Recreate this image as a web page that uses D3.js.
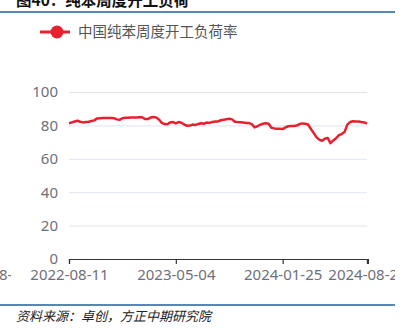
<!DOCTYPE html>
<html>
<head>
<meta charset="utf-8">
<script src="https://cdn.jsdelivr.net/npm/d3@7"></script>
<style>
	body { margin: 0; background: #fff; }
	svg { display: block; }
</style>
</head>
<body>
<svg id="chart" width="404" height="335" viewBox="0 0 404 335"></svg>
<script>

// weekly data, starting 2022-08-11
const start_date = "2022-08-11";
const run_rate = [
	81.3, 81.8, 82.3, 82.8, 82.2, 81.8, 82.0, 82.2, 82.6, 83.0,
	84.2, 84.3, 84.4, 84.4, 84.4, 84.5, 84.3, 83.6, 83.3, 84.3,
	84.6, 84.6, 84.7, 84.8, 84.8, 84.9, 84.9, 83.8, 83.8, 84.7,
	85.0, 84.8, 83.5, 81.5, 80.8, 80.7, 81.8, 82.0, 81.2, 82.0,
	81.6, 80.5, 79.8, 79.9, 80.5, 80.3, 80.8, 81.3, 81.0, 81.7,
	81.5, 82.1, 82.3, 82.4, 83.1, 83.4, 83.7, 84.0, 83.6, 82.2,
	82.0, 81.9, 81.7, 81.5, 81.4, 80.8, 78.8, 79.5, 80.4, 81.0,
	81.3, 81.0, 78.6, 78.2, 78.0, 78.0, 77.8, 78.8, 79.5, 79.6,
	79.7, 79.9, 80.8, 81.2, 81.0, 80.5, 78.0, 75.5, 73.0, 71.5,
	70.8, 72.0, 72.5, 69.4, 71.0, 72.3, 74.2, 74.8, 76.0, 80.5,
	82.0, 82.5, 82.3, 82.3, 82.0, 81.8, 81.0
];
const y_ticks = [0, 20, 40, 60, 80, 100];
const x_tick_labels = ["2022-08-11", "2023-05-04", "2024-01-25", "2024-08-22"];

const series_name = "中国纯苯周度开工负荷率";
const title_text = "图40：纯苯周度开工负荷";
const source_text = "资料来源：卓创，方正中期研究院";

const parse = d3.timeParse("%Y-%m-%d");
const fmt = d3.timeFormat("%Y-%m-%d");
const dates = run_rate.map((v, i) => fmt(d3.timeDay.offset(parse(start_date), 7 * i)));

const svg = d3.select("#chart");
const font = "'Noto Sans', 'Noto Sans CJK SC', sans-serif";

const plot = {left: 69, right: 367, top: 92, bottom: 259};

const x = d3.scaleLinear()
	.domain([0, dates.length - 1])
	.range([plot.left, plot.right]);

const y = d3.scaleLinear()
	.domain([0, 100])
	.range([plot.bottom, plot.top]);

// title + frame lines
svg.append("text")
	.attr("x", 16)
	.attr("y", 6)
	.attr("font-family", "'Noto Sans CJK SC', sans-serif")
	.attr("font-weight", "bold")
	.attr("font-size", "15.5px")
	.attr("fill", "#111")
	.text(title_text);

svg.append("line")
	.attr("x1", 0).attr("x2", 395)
	.attr("y1", 12).attr("y2", 12)
	.attr("stroke", "#1f5f98")
	.attr("stroke-width", 1.5);

svg.append("line")
	.attr("x1", 0).attr("x2", 395)
	.attr("y1", 305).attr("y2", 305)
	.attr("stroke", "#1f5f98")
	.attr("stroke-width", 1.5);

svg.append("text")
	.attr("x", 16)
	.attr("y", 321)
	.attr("font-family", "'Noto Sans CJK SC', sans-serif")
	.attr("font-style", "italic")
	.attr("font-size", "13px")
	.attr("fill", "#222")
	.text(source_text);

// legend
const legend = svg.append("g").attr("transform", "translate(40, 32)");
legend.append("line")
	.attr("x1", 0).attr("x2", 30)
	.attr("stroke", "#e8202e")
	.attr("stroke-width", 3);
legend.append("circle")
	.attr("cx", 17).attr("r", 6.5)
	.attr("fill", "#e8202e");
legend.append("text")
	.attr("x", 38)
	.attr("dy", "0.35em")
	.attr("font-family", "'Noto Sans CJK SC', sans-serif")
	.attr("font-size", "14.5px")
	.attr("fill", "#555")
	.text(series_name);

// y grid + labels
const y_axis = d3.axisLeft(y)
	.tickValues(y_ticks)
	.tickSize(-(plot.right - plot.left))
	.tickPadding(11);

const y_g = svg.append("g")
	.attr("transform", "translate(" + plot.left + ",0)")
	.call(y_axis);
y_g.select(".domain").remove();
y_g.selectAll(".tick line")
	.attr("stroke", "#dfe4f0")
	.attr("stroke-width", 1);
y_g.selectAll(".tick text")
	.attr("font-family", font)
	.attr("font-size", "15px")
	.attr("fill", "#6e7079");

// x axis
const defs = svg.append("defs");
defs.append("clipPath").attr("id", "xlabel-cut")
	.append("rect").attr("x", 0).attr("y", -5).attr("width", 395).attr("height", 40);

const tick_idx = x_tick_labels.map(lbl => dates.indexOf(lbl));
const x_axis = d3.axisBottom(x)
	.tickValues(tick_idx)
	.tickFormat((d, i) => x_tick_labels[i])
	.tickSizeOuter(0)
	.tickSize(5)
	.tickPadding(5);

const x_g = svg.append("g")
	.attr("transform", "translate(0," + plot.bottom + ")")
	.attr("clip-path", "url(#xlabel-cut)")
	.call(x_axis);
x_g.select(".domain")
	.attr("stroke", "#333")
	.attr("stroke-width", 1.2);
x_g.selectAll(".tick line")
	.attr("stroke", "#333")
	.attr("stroke-width", 1.2);
x_g.selectAll(".tick text")
	.attr("font-family", font)
	.attr("font-size", "15px")
	.attr("fill", "#6e7079");
// extra end tick
x_g.append("line")
	.attr("x1", plot.right + 1.5).attr("x2", plot.right + 1.5)
	.attr("y1", 0).attr("y2", 5)
	.attr("stroke", "#333");

// cut-off label at the left edge
defs.append("clipPath").attr("id", "left-cut")
	.append("rect").attr("x", 0).attr("y", 260).attr("width", 11).attr("height", 30);
svg.append("text")
	.attr("clip-path", "url(#left-cut)")
	.attr("x", -1)
	.attr("y", plot.bottom + 10)
	.attr("dy", "0.71em")
	.attr("font-family", font)
	.attr("font-size", "15px")
	.attr("fill", "#6e7079")
	.text("8-2");

// the series line
const line = d3.line()
	.x((d, i) => x(i))
	.y(d => y(d));

svg.append("path")
	.datum(run_rate)
	.attr("d", line)
	.attr("fill", "none")
	.attr("stroke", "#e8202e")
	.attr("stroke-width", 2.5)
	.attr("stroke-linejoin", "round");

</script>
</body>
</html>
